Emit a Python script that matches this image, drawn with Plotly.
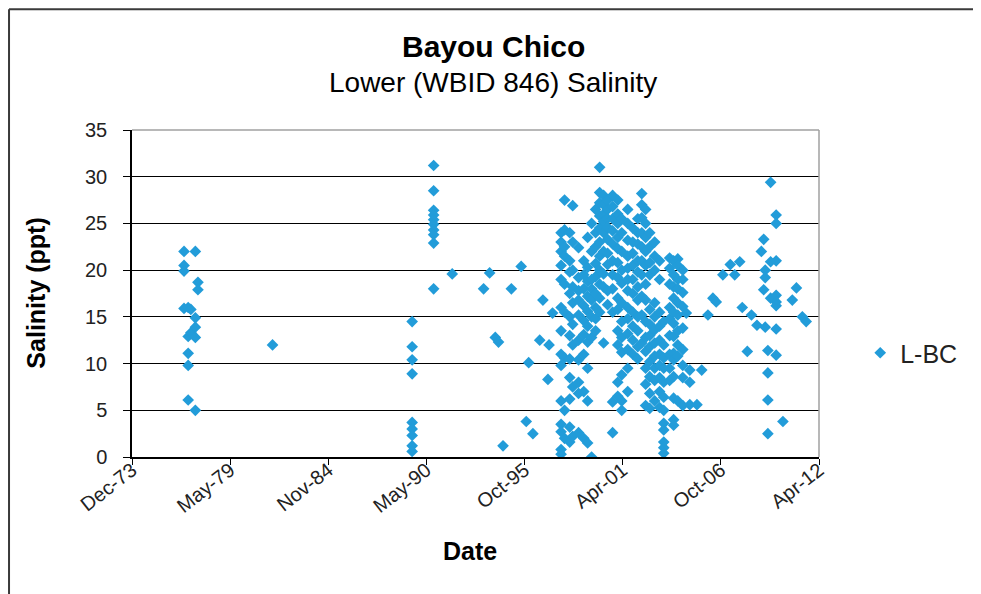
import plotly.graph_objects as go

# sampling dates and the salinity readings (ppt) taken on each
event_dates = [
    "1976-10-27", "1977-01-20", "1977-03-15", "1977-06-15", "1977-08-07",
    "1981-10-05", "1989-07-20", "1990-10-01", "1991-10-15", "1993-07-15",
    "1993-11-15", "1994-03-10", "1994-05-15", "1994-08-15", "1995-02-01",
    "1995-08-20", "1995-12-01", "1996-01-20", "1996-04-15", "1996-09-01",
    "1996-11-05", "1997-02-15", "1997-03-10", "1997-05-20",
    "1997-11-10", "1998-01-20", "1998-05-05", "1998-07-05", "1998-11-01",
    "1999-02-15", "1999-05-05", "1999-07-25", "1999-10-15", "2000-01-05",
    "2000-03-25", "2000-06-15", "2000-09-25", "2001-01-08", "2001-03-30",
    "2001-07-30", "2001-11-10", "2002-02-20", "2002-05-12", "2002-07-30",
    "2002-10-22", "2003-01-30", "2003-05-10", "2003-08-03", "2003-12-01",
    "2004-02-20", "2004-05-15", "2004-08-25", "2004-11-05", "2005-01-15",
    "2005-06-10", "2005-09-15", "2006-01-20", "2006-05-01", "2006-07-08",
    "2006-11-20", "2007-04-20", "2007-07-20", "2007-10-30", "2007-12-20",
    "2008-04-01", "2008-06-25", "2008-10-15", "2009-01-12", "2009-03-01",
    "2009-04-01", "2009-05-25", "2009-07-20", "2009-11-10", "2010-03-28",
    "2010-10-05", "2010-12-28", "2011-04-28", "2011-07-15",
]

event_salinity = [
    [22.0, 20.5, 19.9, 15.9],
    [16.0, 12.9, 11.1, 9.8, 6.1],
    [15.8, 13.3],
    [22.0, 14.9, 13.9, 12.8, 5.0],
    [18.7, 17.9],
    [12.0],
    [14.5, 11.8, 10.4, 8.9, 3.7, 3.0, 2.3, 1.2, 0.6],
    [31.2, 28.5, 26.4, 25.9, 25.4, 24.9, 24.3, 23.8, 22.9, 18.0],
    [19.6],
    [18.0],
    [19.7],
    [12.8],
    [12.3],
    [1.2],
    [18.0],
    [20.4],
    [3.8],
    [10.1],
    [2.5],
    [12.5],
    [16.8],
    [8.3],
    [12.0],
    [15.4],
    [24.0, 23.0, 22.0, 20.5, 19.0, 16.0, 13.5, 11.0, 9.8, 6.0, 3.5, 2.7, 0.8, 0.3],
    [27.5, 24.3, 22.5, 21.5, 18.5, 15.5, 10.6, 5.0, 2.0],
    [24.0, 21.0, 19.8, 17.5, 15.0, 13.0, 10.5, 8.5, 6.2, 3.2, 1.6],
    [26.9, 23.0, 20.0, 18.2, 16.5, 14.2, 12.0, 7.5, 2.2],
    [22.4, 19.2, 17.8, 16.8, 15.2, 12.5, 10.4, 8.0, 6.8, 2.6],
    [21.0, 19.5, 18.0, 16.2, 14.6, 13.1, 11.0, 7.0, 2.0],
    [23.5, 20.3, 18.8, 17.2, 15.6, 14.0, 12.3, 9.5, 6.0, 1.5],
    [25.0, 22.0, 19.0, 18.0, 16.8, 15.0, 12.8, 0.0],
    [26.5, 24.0, 22.5, 20.7, 19.3, 17.5, 16.0, 14.8, 13.5],
    [31.0, 28.3, 27.2, 25.8, 24.5, 23.0, 21.5, 20.0, 18.5, 17.0, 15.5],
    [28.0, 27.0, 26.0, 25.2, 24.0, 22.0, 19.6, 18.2, 12.2],
    [27.5, 26.5, 25.5, 24.6, 23.3, 21.8, 20.6, 17.8, 16.3],
    [28.0, 26.8, 25.5, 24.2, 22.8, 21.0, 19.5, 18.0, 15.5, 5.9, 2.6],
    [27.5, 26.0, 25.0, 23.5, 22.3, 20.8, 19.2, 17.0, 15.8, 13.5, 12.0, 8.0, 6.5],
    [25.5, 24.0, 22.0, 20.0, 18.6, 16.5, 14.5, 12.8, 11.2, 8.8, 6.0, 5.0],
    [26.5, 25.0, 23.2, 21.5, 20.2, 19.0, 17.8, 16.0, 14.8, 13.2, 11.5, 9.5, 7.0],
    [24.5, 23.0, 21.8, 20.5, 19.0, 17.5, 15.5, 14.0, 12.5, 11.0],
    [25.5, 24.0, 22.8, 21.0, 19.8, 18.2, 16.8, 15.0, 13.5, 11.8, 10.5],
    [28.2, 27.0, 25.6, 24.0, 22.5, 21.0, 19.5, 17.2, 15.2, 12.2],
    [26.5, 25.0, 23.5, 22.0, 20.5, 18.5, 16.8, 14.5, 12.8, 11.3, 9.5, 7.8, 5.5],
    [24.0, 22.5, 20.8, 19.5, 15.8, 14.2, 13.0, 11.8, 10.2, 8.6, 6.8, 5.2],
    [23.0, 21.5, 20.0, 16.5, 15.0, 13.6, 12.2, 10.8, 9.5, 8.2, 6.0],
    [21.0, 19.0, 15.5, 14.0, 12.5, 11.0, 9.8, 8.5, 7.0, 5.3],
    [14.5, 12.0, 10.6, 9.5, 8.0, 6.4, 5.0, 3.6, 2.9, 1.6, 1.0, 0.4],
    [21.3, 20.2, 18.5, 16.0, 14.8, 13.0, 11.0, 9.5, 8.2],
    [21.0, 19.5, 18.2, 17.0, 15.5, 14.3, 12.9, 11.1, 10.4, 8.6, 6.3, 4.0, 3.4],
    [21.2, 20.5, 19.0, 18.0, 16.5, 15.2, 13.5, 12.0, 10.8, 6.0],
    [20.0, 19.0, 17.6, 16.1, 13.8, 11.5, 9.8, 8.5, 5.5],
    [15.4],
    [9.3, 8.0, 5.6],
    [5.6],
    [9.3],
    [15.2],
    [17.0],
    [16.6],
    [19.5],
    [20.6],
    [19.5],
    [20.9],
    [16.0],
    [11.3],
    [15.2],
    [14.1],
    [22.0],
    [23.3, 17.9],
    [20.0, 19.2, 13.9],
    [11.4, 9.0, 6.1, 2.5],
    [29.4, 20.9, 17.0],
    [25.9, 25.0, 21.0, 17.3, 16.6, 16.2, 13.7, 10.9],
    [3.8],
    [16.8],
    [18.1],
    [15.0],
    [14.5],
]

# Excel date axis: min 27000, major unit 2000 days, max 41000
tick_dates = [
    "1973-12-02", "1979-05-26", "1984-11-15", "1990-05-07",
    "1995-10-28", "2001-04-19", "2006-10-10", "2012-04-01",
]
y_ticks = [0, 5, 10, 15, 20, 25, 30, 35]

dates = []
salinity = []
for d, vals in zip(event_dates, event_salinity):
    for v in vals:
        dates.append(d)
        salinity.append(v)

FONT = "Liberation Sans, Arial, sans-serif"
BLUE = "#229CD9"

fig = go.Figure(
    go.Scatter(
        x=dates,
        y=salinity,
        mode="markers",
        name="L-BC",
        marker=dict(symbol="diamond", size=9, color=BLUE),
    )
)

# page body adds an 8px offset, so the figure is 8px smaller on each side
fig.update_layout(
    width=973,
    height=586,
    margin=dict(l=124, r=162, t=122, b=137),
    paper_bgcolor="white",
    plot_bgcolor="white",
    font=dict(family=FONT, color="black"),
    showlegend=True,
    legend=dict(
        x=1.060, xanchor="left", y=0.318, yanchor="middle",
        font=dict(size=25, color="#222"), itemwidth=30,
    ),
    annotations=[
        dict(text="<b>Bayou Chico</b>", x=0.5255, y=1.254, xref="paper", yref="paper",
             showarrow=False, font=dict(size=30), xanchor="center", yanchor="middle"),
        dict(text="Lower (WBID 846) Salinity", x=0.5255, y=1.144, xref="paper", yref="paper",
             showarrow=False, font=dict(size=28), xanchor="center", yanchor="middle"),
        dict(text="<b>Salinity (ppt)</b>", x=-0.141, y=0.5, xref="paper", yref="paper",
             showarrow=False, textangle=-90, font=dict(size=25),
             xanchor="center", yanchor="middle"),
        dict(text="<b>Date</b>", x=0.492, y=-0.2875, xref="paper", yref="paper",
             showarrow=False, font=dict(size=25), xanchor="center", yanchor="middle"),
    ],
    shapes=[
        # chart area frame (top and left edges visible)
        dict(type="line", xref="paper", yref="paper", x0=-0.179, x1=1.24, y0=1.369, y1=1.369,
             line=dict(color="#3a3a3a", width=2)),
        dict(type="line", xref="paper", yref="paper", x0=-0.179, x1=-0.179, y0=-0.42, y1=1.369,
             line=dict(color="#3a3a3a", width=2)),
        # plot area border, top and right
        dict(type="line", xref="paper", yref="paper", x0=0, x1=1, y0=1, y1=1,
             line=dict(color="#a0a0a0", width=1.5), layer="above"),
        dict(type="line", xref="paper", yref="paper", x0=1, x1=1, y0=0, y1=1,
             line=dict(color="#a0a0a0", width=1.5), layer="above"),
    ],
)

fig.update_xaxes(
    type="date",
    range=[tick_dates[0], tick_dates[-1]],
    tickvals=tick_dates,
    tickformat="%b-%y",
    tickangle=-38,
    tickfont=dict(size=20, color="#222"),
    ticklabelstandoff=-14,
    showgrid=False,
    showline=True, linecolor="black", linewidth=1.5,
    ticks="outside", ticklen=6, tickcolor="black",
    zeroline=False,
)
fig.update_yaxes(
    range=[0, 35],
    tickvals=y_ticks,
    tickfont=dict(size=20, color="#222"),
    showgrid=True, gridcolor="black", gridwidth=1,
    showline=True, linecolor="black", linewidth=1.5,
    ticks="outside", ticklen=7, tickcolor="black",
    ticklabelstandoff=12,
    zeroline=False,
)

fig.write_html("out.html")
